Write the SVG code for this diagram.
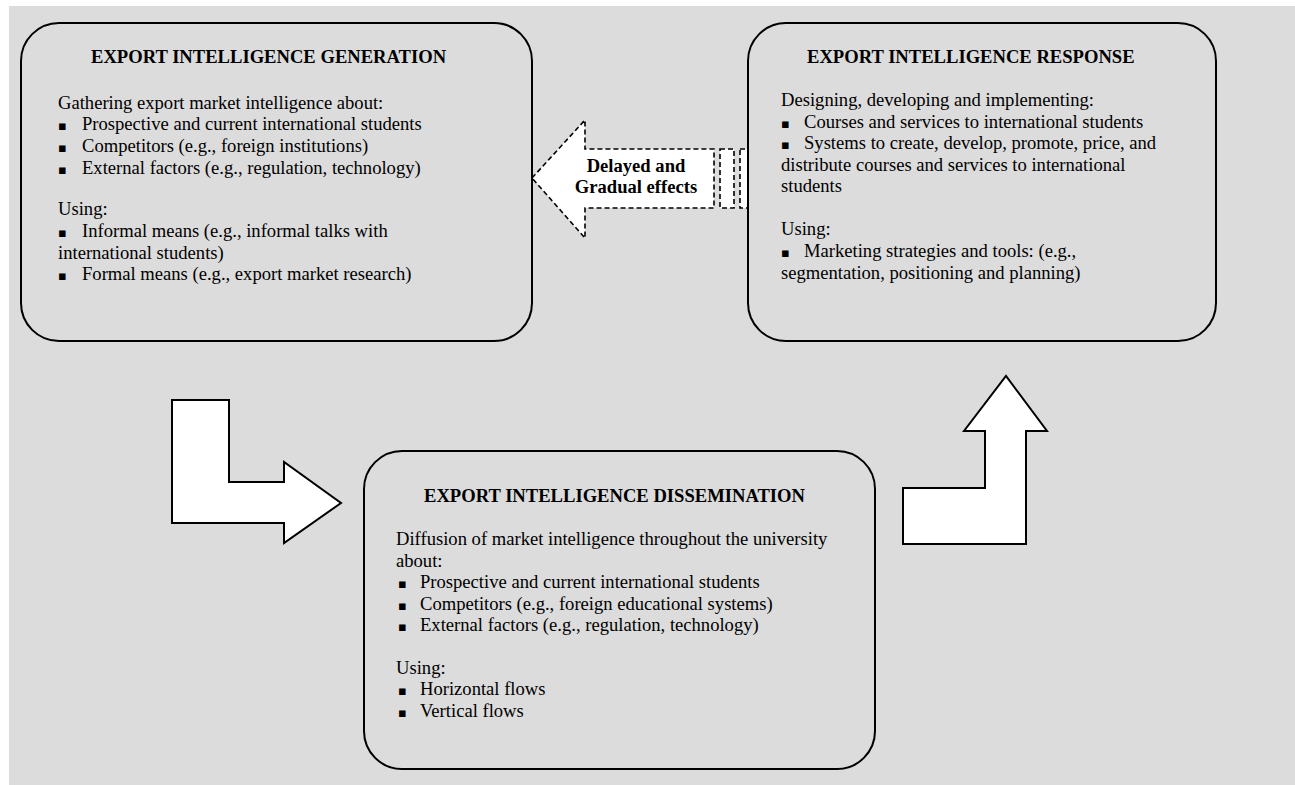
<svg xmlns="http://www.w3.org/2000/svg" width="1295" height="785" viewBox="0 0 1295 785">
<style>
.bg{fill:#dcdcdc}
.box{fill:#dcdcdc;stroke:#000;stroke-width:2}
.arrow{fill:#fff;stroke:#000;stroke-width:2;stroke-linejoin:miter}
.dash{fill:#fff;stroke:#000;stroke-width:1.6;stroke-dasharray:5,3}
text{font-family:"Liberation Serif","Times New Roman",serif;font-size:18.6px;fill:#000}
.t{font-weight:bold}
.b{font-family:"DejaVu Sans",sans-serif;font-size:13px}
</style>
<rect class="bg" x="9" y="6" width="1286" height="779"/>
<g id="connectors">
  <path class="arrow" d="M172,400 L229,400 L229,482 L284,482 L284,462 L341,503 L284,543 L284,523 L172,523 Z"/>
  <path class="arrow" d="M903,544 L1026,544 L1026,431 L1047,431 L1006,376 L964,431 L985,431 L985,488 L903,488 Z"/>
  <g id="delayed">
    <path class="dash" d="M532,178 L585,120 L585,149 L714,149 L714,208 L585,208 L585,238 Z"/>
    <rect class="dash" x="720" y="149" width="14" height="59"/>
    <rect class="dash" x="740" y="149" width="8" height="59"/>
    <text class="t" x="636" y="172" text-anchor="middle">Delayed and</text>
    <text class="t" x="636" y="193" text-anchor="middle">Gradual effects</text>
  </g>
</g>
<g id="generation">
  <rect class="box" x="21" y="23" width="511" height="318" rx="38" ry="38"/>
  <text class="t" x="91" y="63">EXPORT INTELLIGENCE GENERATION</text>
  <text x="58" y="108.5">Gathering export market intelligence about:</text>
  <text class="b" x="58" y="130">▪</text><text x="82" y="130">Prospective and current international students</text>
  <text class="b" x="58" y="152">▪</text><text x="82" y="152">Competitors (e.g., foreign institutions)</text>
  <text class="b" x="58" y="173.5">▪</text><text x="82" y="173.5">External factors (e.g., regulation, technology)</text>
  <text x="58" y="215">Using:</text>
  <text class="b" x="58" y="237">▪</text><text x="82" y="237">Informal means (e.g., informal talks with</text>
  <text x="58" y="258.5">international students)</text>
  <text class="b" x="58" y="280">▪</text><text x="82" y="280">Formal means (e.g., export market research)</text>
</g>
<g id="response">
  <rect class="box" x="748" y="23" width="468" height="318" rx="38" ry="38"/>
  <text class="t" x="807" y="63">EXPORT INTELLIGENCE RESPONSE</text>
  <text x="781" y="106">Designing, developing and implementing:</text>
  <text class="b" x="781" y="127.5">▪</text><text x="804" y="127.5">Courses and services to international students</text>
  <text class="b" x="781" y="149">▪</text><text x="804" y="149">Systems to create, develop, promote, price, and</text>
  <text x="781" y="170.5">distribute courses and services to international</text>
  <text x="781" y="192">students</text>
  <text x="781" y="235">Using:</text>
  <text class="b" x="781" y="257">▪</text><text x="804" y="257">Marketing strategies and tools: (e.g.,</text>
  <text x="781" y="278.5">segmentation, positioning and planning)</text>
</g>
<g id="dissemination">
  <rect class="box" x="364" y="451" width="511" height="318" rx="38" ry="38"/>
  <text class="t" x="424" y="502">EXPORT INTELLIGENCE DISSEMINATION</text>
  <text x="396" y="545">Diffusion of market intelligence throughout the university</text>
  <text x="396" y="567">about:</text>
  <text class="b" x="398" y="588">▪</text><text x="420" y="588">Prospective and current international students</text>
  <text class="b" x="398" y="610">▪</text><text x="420" y="610">Competitors (e.g., foreign educational systems)</text>
  <text class="b" x="398" y="631">▪</text><text x="420" y="631">External factors (e.g., regulation, technology)</text>
  <text x="396" y="674">Using:</text>
  <text class="b" x="398" y="695">▪</text><text x="420" y="695">Horizontal flows</text>
  <text class="b" x="398" y="717">▪</text><text x="420" y="717">Vertical flows</text>
</g>
</svg>
